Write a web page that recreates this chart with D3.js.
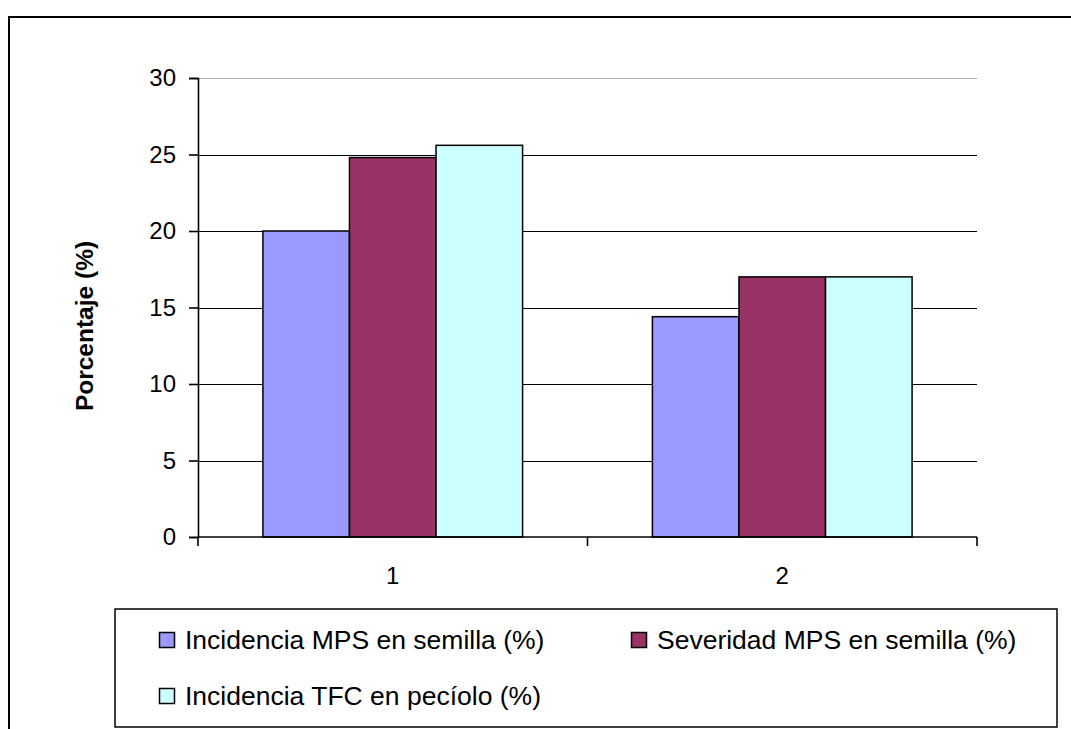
<!DOCTYPE html>
<html>
<head>
<meta charset="utf-8">
<script src="https://cdn.jsdelivr.net/npm/d3@7"></script>
<style>
  html, body { margin: 0; padding: 0; background: #fff; }
  svg { display: block; font-family: Arial, "Liberation Sans", sans-serif; }
</style>
</head>
<body>
<svg id="chart" width="1071" height="729"></svg>
<script>
// Categories and series
const categories = ["1", "2"];
const seriesNames = [
  "Incidencia MPS en semilla (%)",
  "Severidad MPS en semilla (%)",
  "Incidencia TFC en pecíolo (%)"
];
const incidenciaMPS = [20, 14.4];
const severidadMPS = [24.8, 17];
const incidenciaTFC = [25.6, 17];
const seriesValues = [incidenciaMPS, severidadMPS, incidenciaTFC];
const seriesColors = ["#9999FF", "#993366", "#CCFFFF"];
const yTicks = [0, 5, 10, 15, 20, 25, 30];
const yTitle = "Porcentaje (%)";

const svg = d3.select("#chart");

// Outer chart frame
svg.append("rect")
  .attr("x", 9).attr("y", 17)
  .attr("width", 1100).attr("height", 800)
  .attr("fill", "none").attr("stroke", "#000").attr("stroke-width", 2);

const plot = { left: 198, right: 977, top: 78, bottom: 537 };

const y = d3.scaleLinear().domain([0, 30]).range([plot.bottom, plot.top]);
const x0 = d3.scaleBand().domain(categories).range([plot.left, plot.right]).padding(0);
const x1 = d3.scaleBand().domain(d3.range(seriesNames.length))
  .range([0, x0.bandwidth()]).paddingInner(0).paddingOuter(0.75);

// Horizontal gridlines
svg.append("g")
  .selectAll("line")
  .data(yTicks.filter(t => t > 0))
  .join("line")
  .attr("x1", plot.left).attr("x2", plot.right)
  .attr("y1", d => Math.round(y(d)) + 0.5).attr("y2", d => Math.round(y(d)) + 0.5)
  .attr("stroke", d => d === 30 ? "#b0b0b0" : "#000")
  .attr("stroke-width", 1.2);

// Bars
const groups = svg.append("g")
  .selectAll("g")
  .data(categories)
  .join("g")
  .attr("transform", d => `translate(${x0(d)},0)`);

groups.selectAll("rect")
  .data((d, i) => seriesValues.map((vals, s) => ({ s, v: vals[i] })))
  .join("rect")
  .attr("x", d => x1(d.s))
  .attr("y", d => y(d.v))
  .attr("width", x1.bandwidth())
  .attr("height", d => y(0) - y(d.v))
  .attr("fill", d => seriesColors[d.s])
  .attr("stroke", "#000")
  .attr("stroke-width", 1.5);

// Y axis
const yAxis = d3.axisLeft(y).tickValues(yTicks).tickSize(9).tickPadding(13);
const gy = svg.append("g")
  .attr("transform", `translate(${plot.left},0)`)
  .call(yAxis);
gy.select(".domain").attr("stroke", "#000").attr("stroke-width", 1.6);
gy.selectAll(".tick line").attr("stroke", "#000").attr("stroke-width", 1.6);
gy.selectAll(".tick text")
  .attr("font-size", 24)
  .attr("fill", "#000")
  .attr("font-family", "Arial, 'Liberation Sans', sans-serif");

// X axis with ticks at category boundaries
svg.append("line")
  .attr("x1", plot.left).attr("x2", plot.right)
  .attr("y1", plot.bottom).attr("y2", plot.bottom)
  .attr("stroke", "#000").attr("stroke-width", 1.6);
const boundaries = [plot.left].concat(categories.map(c => x0(c) + x0.bandwidth()));
svg.append("g")
  .selectAll("line")
  .data(boundaries)
  .join("line")
  .attr("x1", d => d).attr("x2", d => d)
  .attr("y1", plot.bottom).attr("y2", plot.bottom + 9)
  .attr("stroke", "#000").attr("stroke-width", 1.6);
svg.append("g")
  .selectAll("text")
  .data(categories)
  .join("text")
  .attr("x", d => x0(d) + x0.bandwidth() / 2)
  .attr("y", 584)
  .attr("text-anchor", "middle")
  .attr("font-size", 24)
  .attr("fill", "#000")
  .text(d => d);

// Y axis title
svg.append("text")
  .attr("transform", "translate(93,326) rotate(-90)")
  .attr("text-anchor", "middle")
  .attr("font-size", 24.5)
  .attr("font-weight", "bold")
  .attr("fill", "#000")
  .text(yTitle);

// Legend
const legend = svg.append("g");
legend.append("rect")
  .attr("x", 115).attr("y", 609)
  .attr("width", 942).attr("height", 118)
  .attr("fill", "#fff").attr("stroke", "#000").attr("stroke-width", 1.5);

const legendPos = [
  { x: 159, y: 649 },
  { x: 631, y: 649 },
  { x: 159, y: 705 }
];
const items = legend.selectAll("g.item")
  .data(seriesNames)
  .join("g")
  .attr("class", "item")
  .attr("transform", (d, i) => `translate(${legendPos[i].x},${legendPos[i].y})`);
items.append("rect")
  .attr("x", 0.5).attr("y", -16.5)
  .attr("width", 15).attr("height", 15)
  .attr("fill", (d, i) => seriesColors[i])
  .attr("stroke", "#000").attr("stroke-width", 1.5);
items.append("text")
  .attr("x", 26).attr("y", 0)
  .attr("font-size", 26.5)
  .attr("fill", "#000")
  .text(d => d);
</script>
</body>
</html>
